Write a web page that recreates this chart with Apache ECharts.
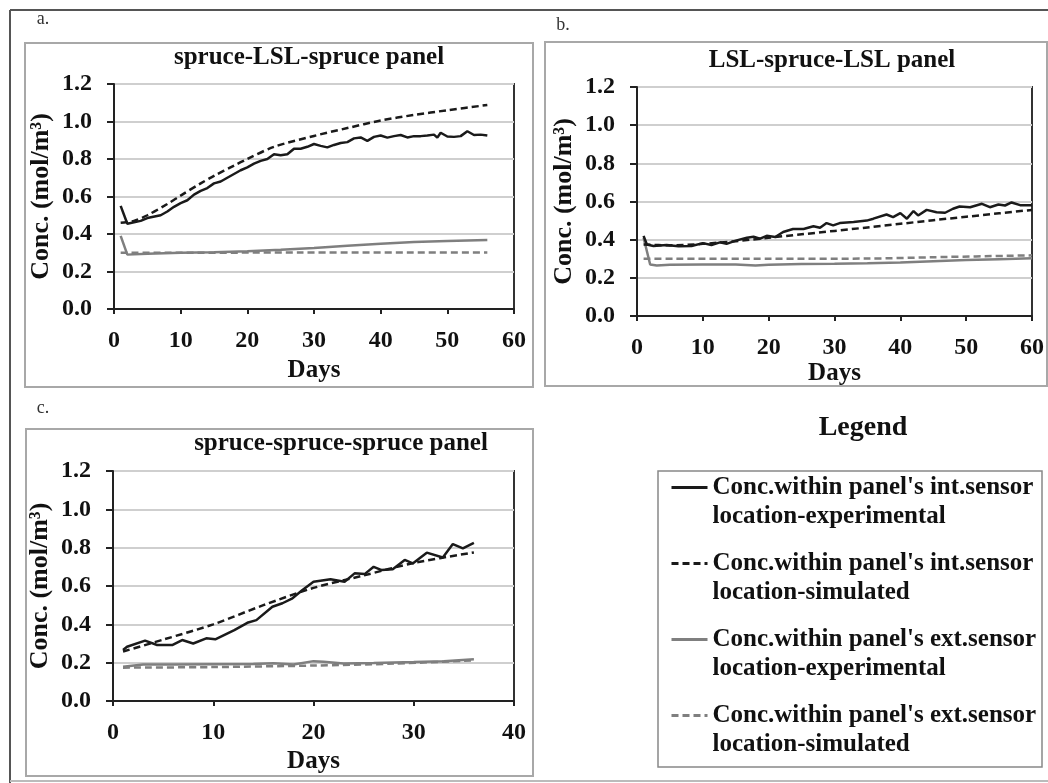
<!doctype html>
<html>
<head>
<meta charset="utf-8">
<script src="https://cdn.jsdelivr.net/npm/echarts@6.0.0/dist/echarts.min.js"></script>
<style>
html,body{margin:0;padding:0;background:#fff;}
#main{width:1048px;height:783px;}
</style>
</head>
<body>
<div id="main"></div>
<script>
// legend / series names
var names = [
  "Conc.within panel's int.sensor\nlocation-experimental",
  "Conc.within panel's int.sensor\nlocation-simulated",
  "Conc.within panel's ext.sensor\nlocation-experimental",
  "Conc.within panel's ext.sensor\nlocation-simulated"
];
var panelTitles = ['spruce-LSL-spruce panel', 'LSL-spruce-LSL panel', 'spruce-spruce-spruce panel'];
var xMax = [60, 60, 40];

// panel a : [day, conc]
var aIntExp = [[1,0.55],[2,0.455],[4,0.47],[5,0.485],[7,0.50],[8,0.52],[9,0.545],[10,0.565],[11,0.58],[12,0.61],[13,0.63],[14,0.645],[15,0.67],[16,0.68],[17,0.70],[18,0.72],[19,0.74],[20,0.755],[21,0.775],[22,0.79],[23,0.80],[24,0.825],[25,0.82],[26,0.825],[27,0.855],[28,0.855],[29,0.865],[30,0.88],[31,0.87],[32,0.862],[33,0.875],[34,0.885],[35,0.89],[36,0.91],[37,0.915],[38,0.897],[39,0.918],[40,0.925],[41,0.914],[42,0.922],[43,0.928],[44,0.915],[45,0.922],[46,0.922],[47,0.925],[48,0.93],[48.5,0.914],[49,0.94],[50,0.92],[51,0.918],[52,0.922],[53,0.948],[54,0.928],[55,0.93],[56,0.925]];
var aIntSim = [[1,0.46],[3,0.47],[5,0.50],[8,0.56],[10,0.605],[13,0.67],[15,0.71],[18,0.765],[20,0.80],[24,0.865],[30,0.923],[35,0.965],[40,1.005],[45,1.035],[50,1.06],[56,1.088]];
var aExtExp = [[1,0.39],[2,0.29],[5,0.295],[10,0.30],[15,0.303],[20,0.308],[25,0.316],[30,0.325],[35,0.337],[40,0.348],[45,0.357],[50,0.363],[56,0.368]];
var aExtSim = [[1,0.30],[28,0.301],[56,0.302]];

// panel b
var bIntExp = [[1,0.42],[1.5,0.375],[2.5,0.367],[4.5,0.372],[6.3,0.366],[8.3,0.367],[10,0.382],[11.3,0.372],[12.6,0.386],[13.6,0.378],[15,0.395],[16.7,0.41],[17.7,0.415],[18.7,0.405],[19.7,0.42],[21,0.414],[22.2,0.44],[23.7,0.456],[25.3,0.456],[26.8,0.47],[27.8,0.462],[28.8,0.487],[29.8,0.475],[30.8,0.487],[32.9,0.492],[34.9,0.50],[35.9,0.51],[37.9,0.532],[38.9,0.518],[40,0.539],[41,0.51],[42,0.55],[42.7,0.527],[44,0.556],[45.5,0.544],[46.8,0.541],[48,0.562],[49,0.574],[50.6,0.57],[52.4,0.588],[53.6,0.57],[54.9,0.584],[55.9,0.579],[56.9,0.595],[58.2,0.581],[60,0.581]];
var bIntSim = [[1,0.375],[5,0.37],[10,0.378],[15,0.392],[20,0.41],[25,0.428],[30,0.446],[35,0.464],[40,0.483],[45,0.502],[50,0.52],[55,0.538],[60,0.556]];
var bExtExp = [[1,0.41],[2,0.27],[3,0.265],[5,0.268],[10,0.27],[15,0.27],[18,0.265],[20,0.268],[25,0.272],[30,0.274],[35,0.277],[40,0.281],[45,0.287],[50,0.293],[55,0.298],[60,0.302]];
var bExtSim = [[1,0.30],[20,0.30],[35,0.301],[45,0.308],[60,0.318]];

// panel c
var cIntExp = [[1,0.266],[1.4,0.283],[3.2,0.315],[4.4,0.292],[5.9,0.292],[6.9,0.318],[8,0.30],[9.3,0.327],[10.2,0.322],[12.1,0.37],[13.4,0.408],[14.3,0.422],[15.9,0.492],[16.9,0.51],[17.9,0.536],[18.9,0.579],[20,0.622],[21.7,0.635],[23.1,0.622],[24.1,0.666],[25.1,0.662],[26,0.70],[26.8,0.683],[27.9,0.687],[29.1,0.736],[29.9,0.718],[31.3,0.774],[32.9,0.749],[33.9,0.819],[34.9,0.796],[36,0.825]];
var cIntSim = [[1,0.258],[5,0.32],[10,0.40],[15,0.50],[20,0.59],[25,0.655],[30,0.72],[36,0.775]];
var cExtExp = [[1,0.179],[3,0.19],[6,0.19],[10,0.192],[14,0.193],[16,0.197],[18,0.19],[20,0.208],[21,0.205],[23,0.196],[26,0.198],[30,0.203],[33,0.208],[36,0.218]];
var cExtSim = [[1,0.174],[10,0.177],[20,0.185],[28,0.195],[36,0.212]];

var panels = [
  [aIntExp, aIntSim, aExtExp, aExtSim],
  [bIntExp, bIntSim, bExtExp, bExtSim],
  [cIntExp, cIntSim, cExtExp, cExtSim]
];

var serif = "'Liberation Serif','DejaVu Serif',serif";
var black = '#1a1a1a', grey = '#7f7f7f';
var lineStyles = [
  {color: black, width: 2.5, type: 'solid'},
  {color: black, width: 2.5, type: [7, 4]},
  {color: grey, width: 2.5, type: 'solid'},
  {color: grey, width: 2.5, type: [7, 4]}
];

var grids = [
  {left: 114, top: 84, width: 400, height: 225},
  {left: 637, top: 87, width: 395, height: 229},
  {left: 113, top: 471, width: 401, height: 230}
];
var nameGaps = [49, 43, 48];

var xAxes = [], yAxes = [], series = [];
grids.forEach(function (g, i) {
  g.show = true;
  g.borderColor = '#333';
  g.borderWidth = 2;
  g.outerBoundsMode = 'none';
  xAxes.push({
    type: 'value', gridIndex: i, min: 0, max: xMax[i], interval: 10,
    name: 'Days', nameLocation: 'middle', nameGap: nameGaps[i],
    nameTextStyle: {fontFamily: serif, fontWeight: 'bold', fontSize: 25, color: '#111'},
    axisLine: {show: true, lineStyle: {color: '#222', width: 2}},
    axisTick: {show: true, inside: false, length: 5, lineStyle: {color: '#222', width: 2}},
    axisLabel: {margin: 20, fontFamily: serif, fontWeight: 'bold', fontSize: 24, color: '#111'},
    splitLine: {show: false}
  });
  yAxes.push({
    type: 'value', gridIndex: i, min: 0, max: 1.2, interval: 0.2,
    name: 'Conc. (mol/m³)', nameLocation: 'middle', nameGap: 60,
    nameTextStyle: {fontFamily: serif, fontWeight: 'bold', fontSize: 26, color: '#111'},
    axisLine: {show: true, lineStyle: {color: '#222', width: 2}},
    axisTick: {show: true, inside: false, length: 7, lineStyle: {color: '#222', width: 2}},
    axisLabel: {margin: 22, fontFamily: serif, fontWeight: 'bold', fontSize: 24, color: '#111',
      formatter: function (v) { return v.toFixed(1); }},
    splitLine: {show: true, lineStyle: {color: '#cfcfcf', width: 2}}
  });
  panels[i].forEach(function (d, k) {
    series.push({
      type: 'line', name: names[k], xAxisIndex: i, yAxisIndex: i,
      data: d, symbol: 'none', showSymbol: false,
      smooth: (k === 1 || k === 3) ? 0.3 : false,
      itemStyle: {color: lineStyles[k].color},
      lineStyle: lineStyles[k], z: 4 - k, silent: true
    });
  });
});

function txt(text, x, y, size, weight, color) {
  return {type: 'text', x: x, y: y, silent: true, style: {
    text: text, fontFamily: serif, fontSize: size, fontWeight: weight || 'normal', fill: color || '#111',
    align: 'center', verticalAlign: 'middle', textAlign: 'center', textVerticalAlign: 'middle'}};
}
function box(x1, y1, x2, y2, color, w) {
  return {type: 'rect', silent: true, shape: {x: x1, y: y1, width: x2 - x1, height: y2 - y1},
    style: {fill: null, stroke: color, lineWidth: w}};
}
function seg(x1, y1, x2, y2, color, w) {
  return {type: 'line', silent: true, shape: {x1: x1, y1: y1, x2: x2, y2: y2}, style: {stroke: color, lineWidth: w}};
}

var chart = echarts.init(document.getElementById('main'));
chart.setOption({
  animation: false,
  backgroundColor: '#fff',
  grid: grids,
  xAxis: xAxes,
  yAxis: yAxes,
  series: series,
  legend: {
    data: names, orient: 'vertical', left: 670, top: 444, padding: 0,
    itemWidth: 36, itemHeight: 14, itemGap: -11, selectedMode: false,
    itemStyle: {color: 'rgba(0,0,0,0)', borderColor: 'rgba(0,0,0,0)', borderWidth: 0, opacity: 0},
    lineStyle: {width: 3},
    formatter: function (n) { return '\n' + n; },
    textStyle: {fontFamily: serif, fontWeight: 'bold', fontSize: 25, lineHeight: 29, color: '#111'}
  },
  graphic: [
    seg(10, 10, 1048, 10, '#555', 2),
    seg(10, 10, 10, 783, '#555', 2),
    seg(10, 781, 1048, 781, '#bbb', 2),
    box(25, 43, 533, 387, '#a8a8a8', 2),
    box(545, 42, 1047, 386, '#a8a8a8', 2),
    box(26, 429, 533, 776, '#a8a8a8', 2),
    box(658, 471, 1042, 767, '#888', 1.5),
    txt('a.', 43, 19, 18, 'normal', '#333'),
    txt('b.', 563, 25, 18, 'normal', '#333'),
    txt('c.', 43, 408, 18, 'normal', '#333'),
    txt(panelTitles[0], 309, 58, 25, 'bold'),
    txt(panelTitles[1], 832, 61, 25, 'bold'),
    txt(panelTitles[2], 341, 444, 25, 'bold'),
    txt('Legend', 863, 428, 28, 'bold')
  ]
});
</script>
</body>
</html>
